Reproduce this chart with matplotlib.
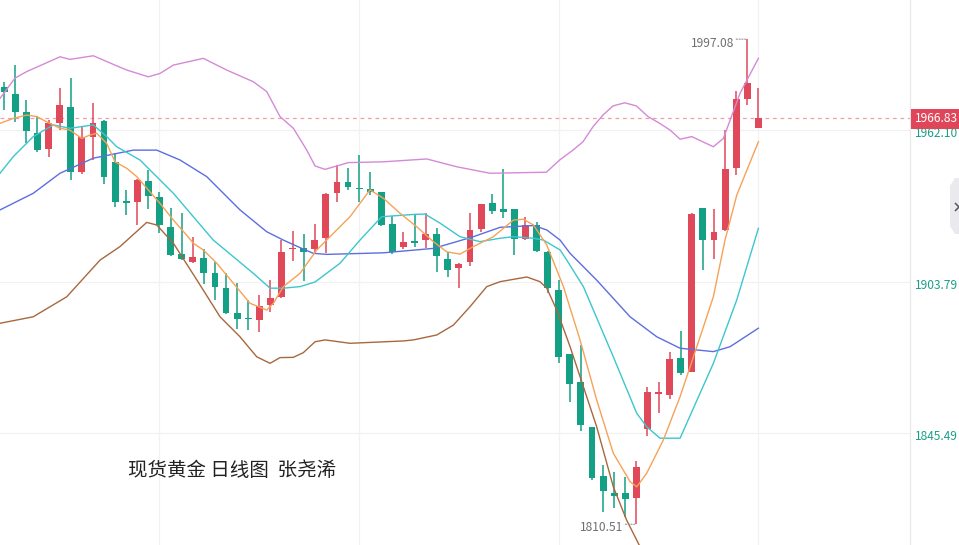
import matplotlib
matplotlib.use('Agg')
import matplotlib.pyplot as plt
from matplotlib.patches import Polygon
from matplotlib.lines import Line2D
import numpy as np

plt.rcParams['font.family'] = ['Noto Sans CJK SC', 'DejaVu Sans']

# daily candles, oldest first
opens = [1978.8, 1975.9, 1968.9, 1961.1, 1954.7, 1964.9, 1971.1, 1946.0, 1959.3, 1965.6,
         1949.9, 1934.6, 1934.3, 1942.7, 1936.5, 1924.7, 1914.4, 1911.3, 1913.0, 1907.0,
         1901.5, 1891.9, 1889.6, 1889.1, 1894.8, 1898.0, 1916.3, 1916.6, 1916.3, 1920.5,
         1937.8, 1942.3, 1939.6, 1939.6, 1938.2, 1926.0, 1917.0, 1919.4, 1919.8, 1922.1,
         1912.4, 1908.9, 1911.5, 1924.1, 1933.9, 1931.8, 1931.6, 1920.2, 1925.6, 1915.3,
         1900.6, 1876.0, 1865.3, 1848.0, 1829.1, 1822.6, 1822.4, 1820.7, 1847.0, 1860.6,
         1860.2, 1874.3, 1869.2, 1932.3, 1919.8, 1923.7, 1947.6, 1973.9, 1963.0]
highs = [1980.7, 1987.1, 1973.7, 1967.5, 1966.0, 1978.2, 1982.0, 1963.3, 1972.4, 1966.0,
         1953.3, 1939.1, 1943.2, 1946.8, 1938.2, 1932.0, 1930.1, 1920.9, 1916.3, 1911.5,
         1907.0, 1903.2, 1896.8, 1898.7, 1904.4, 1919.8, 1923.3, 1922.0, 1926.0, 1937.8,
         1948.7, 1947.6, 1952.5, 1945.9, 1938.4, 1929.1, 1923.0, 1929.4, 1930.2, 1924.3,
         1915.3, 1910.8, 1930.1, 1933.7, 1937.4, 1947.0, 1931.7, 1928.6, 1926.9, 1915.6,
         1904.4, 1876.0, 1879.4, 1848.0, 1833.3, 1830.7, 1828.8, 1834.8, 1863.2, 1865.3,
         1876.9, 1884.8, 1930.3, 1932.3, 1931.6, 1962.1, 1977.1, 1997.08, 1978.4]
lows = [1969.8, 1965.3, 1957.0, 1953.6, 1951.9, 1962.1, 1942.9, 1945.2, 1950.6, 1941.4,
        1932.6, 1929.4, 1925.6, 1931.8, 1922.6, 1913.7, 1912.1, 1910.9, 1902.8, 1896.8,
        1891.4, 1885.5, 1885.2, 1884.6, 1892.3, 1897.5, 1911.8, 1904.1, 1914.3, 1914.7,
        1934.6, 1939.1, 1934.6, 1937.1, 1925.4, 1914.5, 1916.2, 1917.3, 1916.6, 1907.6,
        1905.7, 1901.3, 1909.8, 1923.0, 1929.8, 1928.2, 1914.1, 1919.8, 1915.1, 1899.3,
        1872.4, 1857.6, 1846.5, 1827.5, 1815.3, 1816.6, 1813.4, 1810.51, 1844.4, 1853.2,
        1858.6, 1867.9, 1869.0, 1908.3, 1912.4, 1923.3, 1944.8, 1971.8, 1963.0]
closes = [1976.6, 1968.9, 1961.8, 1954.4, 1964.7, 1971.8, 1946.1, 1959.4, 1964.7, 1944.2,
          1934.3, 1934.1, 1942.9, 1936.8, 1925.6, 1914.1, 1912.5, 1913.4, 1907.0, 1901.9,
          1891.6, 1889.3, 1889.3, 1894.6, 1897.4, 1915.3, 1916.6, 1915.3, 1919.8, 1937.4,
          1942.0, 1940.3, 1939.3, 1938.4, 1925.7, 1915.3, 1919.2, 1918.8, 1922.1, 1913.7,
          1908.3, 1910.6, 1923.7, 1933.6, 1931.1, 1930.5, 1920.1, 1925.6, 1915.6, 1901.3,
          1874.9, 1864.4, 1848.7, 1828.2, 1823.4, 1821.4, 1820.2, 1832.6, 1861.5, 1861.1,
          1873.9, 1868.6, 1929.8, 1919.8, 1923.0, 1947.1, 1974.1, 1980.1, 1966.83]

# indicator lines (candle index, price)
ma5_idx = [-0.38, 0.82, 2.03, 2.93, 3.83, 5.03, 5.93, 6.99, 7.74, 8.34, 9.24, 9.99, 11.05, 11.95,
           12.99, 14.05, 15.25, 16.30, 17.05, 17.95, 19.16, 20.66, 22.16, 23.67, 24.27, 25.17,
           26.67, 28.18, 29.68, 31.18, 32.98, 34.18, 35.69, 37.20, 38.69, 39.90, 41.10, 42.30,
           44.10, 45.91, 46.81, 47.72, 48.92, 50.42, 51.92, 53.42, 54.92, 56.43, 57.03, 57.93,
           59.43, 60.94, 62.45, 63.94, 64.99, 66.05, 68.0]
ma5_val = [1964.7, 1966.6, 1967.9, 1967.3, 1965.3, 1962.8, 1962.1, 1958.9, 1960.2, 1960.9, 1957.0,
           1949.9, 1947.4, 1944.2, 1939.1, 1933.9, 1927.5, 1922.4, 1918.6, 1916.0, 1910.9, 1903.2,
           1895.5, 1892.9, 1895.5, 1901.9, 1907.0, 1916.0, 1922.4, 1928.8, 1939.1, 1935.9, 1930.1,
           1924.9, 1919.2, 1915.3, 1914.4, 1917.3, 1921.1, 1927.5, 1927.8, 1925.6, 1917.9, 1901.9,
           1881.4, 1858.3, 1837.8, 1826.9, 1824.9, 1830.1, 1842.9, 1859.6, 1878.8, 1898.0, 1919.8,
           1937.1, 1957.6]
ma10_idx = [-0.38, 0.82, 2.62, 4.43, 5.93, 8.03, 9.24, 10.14, 12.24, 13.44, 15.25, 17.05, 18.85,
            20.66, 22.46, 23.97, 25.17, 26.67, 28.03, 30.28, 32.08, 34.04, 37.04, 37.94, 39.30,
            41.10, 42.9, 44.71, 45.91, 47.72, 48.62, 50.12, 50.72, 52.22, 54.92, 57.03, 57.93,
            59.13, 60.94, 63.94, 66.05, 68.0]
ma10_val = [1945.5, 1951.9, 1959.6, 1964.1, 1962.8, 1964.1, 1959.6, 1955.7, 1950.6, 1945.5, 1937.8,
            1928.8, 1919.8, 1913.4, 1907.0, 1901.3, 1901.3, 1901.9, 1903.7, 1910.9, 1919.8, 1928.8,
            1929.7, 1929.8, 1926.3, 1921.1, 1919.2, 1920.5, 1921.1, 1920.5, 1919.8, 1916.0, 1912.1,
            1901.9, 1874.9, 1853.2, 1848.0, 1843.6, 1843.6, 1872.4, 1896.8, 1924.3]
mid_idx = [-0.38, 2.62, 5.03, 8.03, 11.64, 13.75, 15.85, 18.26, 21.26, 23.67, 25.17, 26.67, 27.87,
           29.08, 34.18, 38.69, 40.80, 42.30, 44.71, 47.72, 48.92, 50.12, 51.02, 53.42, 56.43,
           58.84, 60.94, 63.94, 65.45, 68.0]
mid_val = [1931.4, 1937.8, 1945.5, 1951.3, 1954.4, 1954.4, 1950.6, 1944.2, 1931.4, 1923.0, 1919.8,
           1916.9, 1914.7, 1914.3, 1914.9, 1916.6, 1919.2, 1921.1, 1924.7, 1925.4, 1923.7, 1919.8,
           1914.7, 1904.4, 1890.3, 1882.6, 1878.2, 1876.9, 1878.8, 1885.9]
upper_idx = [-0.38, 0.97, 2.03, 5.03, 5.93, 8.03, 9.99, 11.05, 12.99, 14.05, 15.25, 17.95, 20.06,
             22.46, 23.67, 24.87, 26.07, 27.28, 28.03, 28.93, 31.03, 34.18, 38.10, 40.80, 43.80,
             48.88, 50.08, 51.28, 52.18, 53.09, 53.99, 54.89, 55.95, 57.0, 58.05, 59.1, 60.04,
             60.94, 61.99, 63.94, 64.84, 66.35, 68.0]
upper_val = [1974.3, 1982.1, 1984.6, 1990.3, 1989.3, 1990.7, 1987.1, 1985.2, 1982.6, 1983.9, 1987.1,
             1989.7, 1985.2, 1980.7, 1976.9, 1967.3, 1962.8, 1954.4, 1948.3, 1947.0, 1949.6, 1949.9,
             1951.0, 1948.0, 1945.5, 1945.9, 1950.6, 1954.4, 1957.6, 1963.4, 1967.9, 1971.4, 1972.6,
             1971.4, 1967.3, 1964.7, 1962.1, 1958.6, 1959.6, 1955.7, 1958.9, 1976.3, 1989.7]
lower_idx = [-0.38, 2.62, 5.64, 8.64, 10.44, 12.85, 13.75, 15.25, 17.38, 19.46, 21.26, 22.77, 23.97,
             24.87, 26.07, 26.97, 28.03, 28.93, 31.18, 35.99, 36.89, 39.0, 40.5, 42.0, 43.51, 44.71,
             47.12, 48.31, 48.92, 49.82, 51.02, 52.22, 53.42, 54.92, 56.12, 57.17, 57.6]
lower_val = [1887.8, 1890.3, 1898.0, 1912.1, 1917.3, 1926.6, 1925.6, 1918.6, 1904.4, 1890.3, 1882.6,
             1874.9, 1872.4, 1874.6, 1874.7, 1876.5, 1880.7, 1881.4, 1880.1, 1881.0, 1881.4, 1883.3,
             1887.1, 1894.2, 1901.9, 1903.8, 1905.6, 1903.8, 1901.3, 1892.9, 1878.8, 1863.4, 1848.0,
             1824.9, 1812.1, 1803.2, 1799.5]

grid_prices = [1962.10, 1903.79, 1845.49]
grid_days = [14, 32, 50, 68]
last_price = 1966.83
title = '现货黄金 日线图  张尧浠'

UP = '#e0495a'
DOWN = '#14a085'
TEAL = '#1b9f86'

o = np.array(opens); c = np.array(closes)
h = np.array(highs); l = np.array(lows)
x = np.arange(len(o))
colors = np.where(c >= o, UP, DOWN)

fig = plt.figure(figsize=(9.59, 5.45), dpi=100)
ax = fig.add_axes([0, 0, 910 / 959, 1])
ax.set_xlim(-0.38, 81.67)
ax.set_ylim(1802.52, 2012.14)

for p in grid_prices:
    ax.axhline(p, color='#f1f1f1', lw=0.9, zorder=0)
for d in grid_days:
    ax.axvline(d, color='#f1f1f1', lw=0.9, zorder=0)

ax.axhline(last_price, color='#eea0a6', lw=0.9, ls=(0, (3, 3)), zorder=1)

ax.vlines(x, l, h, colors=colors, lw=1.1, zorder=2)
body = np.maximum(np.abs(c - o), 0.6)
ax.bar(x, body, bottom=np.minimum(o, c), width=0.62, color=colors, linewidth=0, zorder=2)

ax.plot(upper_idx, upper_val, color='#d48ad6', lw=1.0, zorder=3)
ax.plot(lower_idx, lower_val, color='#a8683e', lw=1.0, zorder=3)
ax.plot(mid_idx, mid_val, color='#5c6ee0', lw=1.0, zorder=3)
ax.plot(ma10_idx, ma10_val, color='#3cc6cf', lw=1.0, zorder=3)
ax.plot(ma5_idx, ma5_val, color='#f6a257', lw=1.0, zorder=3)

# price scale on the right
for p in grid_prices:
    ax.annotate('%.2f' % p, xy=(1, p), xycoords=('axes fraction', 'data'),
                xytext=(5, -3.5), textcoords='offset pixels', ha='left', va='center',
                fontsize=8.6, color=TEAL, annotation_clip=False)
ax.annotate('%.2f' % last_price, xy=(1, last_price), xycoords=('axes fraction', 'data'),
            xytext=(5, -1), textcoords='offset pixels', ha='left', va='center',
            fontsize=8.6, color='white', annotation_clip=False,
            bbox=dict(boxstyle='square,pad=0.3', fc='#e0465a', ec='none'))

# high / low marks
hi = int(np.argmax(h)); lo = int(np.argmin(l))
for i, v, dy in [(hi, h[hi], -4), (lo, l[lo], -3)]:
    ax.annotate('%.2f' % v, xy=(i, v), xytext=(-13, dy), textcoords='offset pixels',
                ha='right', va='center', fontsize=8.7, color='#707070')
    ax.annotate('', xy=(i, v), xytext=(-11, 0), textcoords='offset pixels',
                arrowprops=dict(arrowstyle='-', ls=(0, (1, 1.5)), color='#909090', lw=0.8,
                                shrinkA=0, shrinkB=0))

for s in ['top', 'left', 'bottom']:
    ax.spines[s].set_visible(False)
ax.spines['right'].set_color('#e8e8e8')
ax.spines['right'].set_linewidth(0.9)
ax.set_xticks([]); ax.set_yticks([])

fig.text(128 / 959, 1 - 470 / 545, title, fontsize=14, color='#222222', va='center', ha='left')

# collapse button stub at the right edge
W, H = 959, 545
pts = [(955, 178), (950, 186), (950, 226), (955, 234), (965, 234), (965, 178)]
fig.patches.append(Polygon([(px / W, 1 - py / H) for px, py in pts], closed=True,
                           transform=fig.transFigure, fc='#e9e9ee', ec='none'))
fig.add_artist(Line2D([959 / W], [1 - 207 / H], transform=fig.transFigure, marker='x',
                      markersize=6, markeredgewidth=1.1, color='#555555', ls='none'))

fig.savefig('out.png', dpi=100)
